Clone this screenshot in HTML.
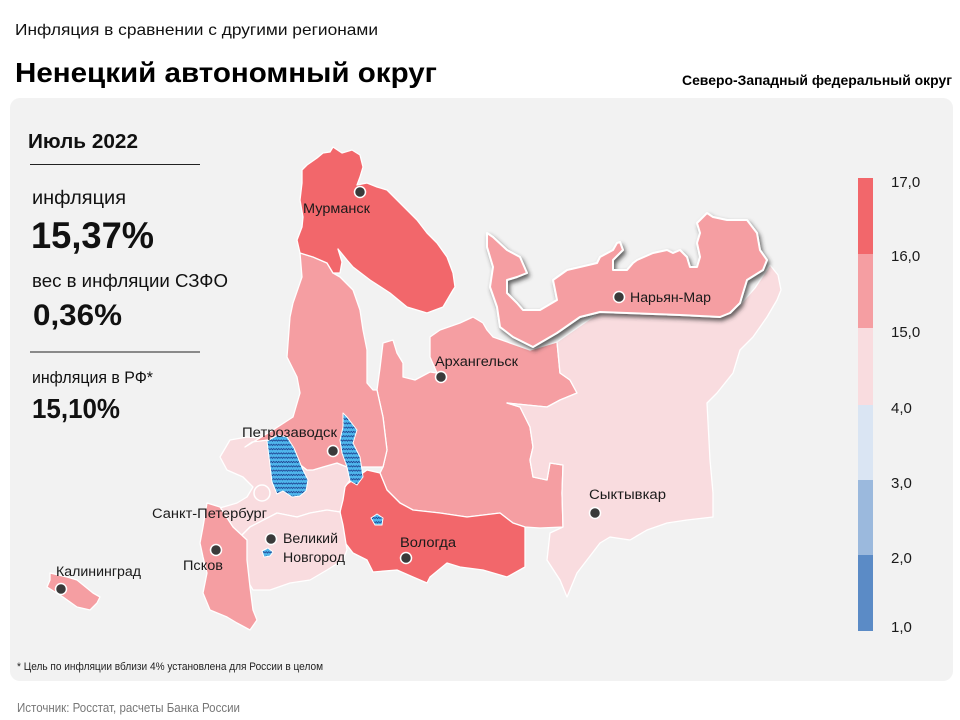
<!DOCTYPE html>
<html>
<head>
<meta charset="utf-8">
<style>
html,body{margin:0;padding:0;background:#fff;}
svg{display:block;}
text{font-family:"Liberation Sans",Arial,sans-serif;}
</style>
</head>
<body>
<svg width="960" height="720" viewBox="0 0 960 720" xmlns="http://www.w3.org/2000/svg">
<defs>
  <pattern id="wave" width="5" height="4.3" patternUnits="userSpaceOnUse">
    <rect width="5" height="4.3" fill="#4fb6ec"/>
    <path d="M0,2.6 L1.25,1.3 L2.5,2.6 L3.75,1.3 L5,2.6" stroke="#1c3d8c" stroke-width="0.8" fill="none"/>
  </pattern>
  <filter id="sh" x="-10%" y="-10%" width="130%" height="140%">
    <feDropShadow dx="2" dy="3" stdDeviation="2" flood-color="#333" flood-opacity="0.75"/>
  </filter>
</defs>

<rect x="0" y="0" width="960" height="720" fill="#ffffff"/>

<!-- Header -->
<text x="15" y="35" font-size="16" fill="#111" textLength="363" lengthAdjust="spacingAndGlyphs">Инфляция в сравнении с другими регионами</text>
<text x="15" y="82" font-size="28" font-weight="bold" fill="#000" textLength="422" lengthAdjust="spacingAndGlyphs">Ненецкий автономный округ</text>
<text x="682" y="85" font-size="14" font-weight="bold" fill="#000" textLength="270" lengthAdjust="spacingAndGlyphs">Северо-Западный федеральный округ</text>

<!-- Panel -->
<rect x="10" y="98" width="943" height="583" rx="10" ry="10" fill="#f2f2f2"/>

<!-- Left info -->
<text x="28" y="148" font-size="20" font-weight="bold" fill="#111" textLength="110" lengthAdjust="spacingAndGlyphs">Июль 2022</text>
<line x1="30" y1="164.5" x2="200" y2="164.5" stroke="#222" stroke-width="1"/>
<text x="32" y="204" font-size="19" fill="#111" textLength="94" lengthAdjust="spacingAndGlyphs">инфляция</text>
<text x="31" y="248" font-size="37" font-weight="bold" fill="#111" textLength="123" lengthAdjust="spacingAndGlyphs">15,37%</text>
<text x="32" y="287" font-size="18" fill="#111" textLength="196" lengthAdjust="spacingAndGlyphs">вес в инфляции  СЗФО</text>
<text x="33" y="325" font-size="30" font-weight="bold" fill="#111" textLength="89" lengthAdjust="spacingAndGlyphs">0,36%</text>
<line x1="30" y1="352" x2="200" y2="352" stroke="#222" stroke-width="1"/>
<text x="32" y="383" font-size="16.5" fill="#111" textLength="121" lengthAdjust="spacingAndGlyphs">инфляция  в РФ*</text>
<text x="32" y="418" font-size="28" font-weight="bold" fill="#111" textLength="88" lengthAdjust="spacingAndGlyphs">15,10%</text>

<!-- Map regions -->
<g stroke="#ffffff" stroke-width="1.3" stroke-linejoin="round">
  <!-- Arkhangelsk -->
  <path fill="#f59ea2" d="M377,390 L380,368 L383,343 L393,340 L397,353 L403,363 L403,377 L415,380 L430,372 L437,373 L430,357 L430,337 L440,330 L460,323 L473,317 L483,323 L487,330 L493,337 L530,350 L557,342 L560,373 L570,380 L577,393 L560,400 L547,407 L507,403 L520,407 L530,427 L533,447 L530,460 L533,477 L547,480 L550,463 L563,465 L562,493 L563,527 L540,528 L525,527 L513,523 L500,513 L467,517 L440,513 L413,510 L400,503 L387,490 L380,473 L383,467 L387,450 L383,417 Z"/>
  <!-- Komi -->
  <path fill="#f9dcdf" d="M557,342 L600,312 L680,315 L720,317 L740,305 L755,288 L770,265 L778,275 L781,290 L777,300 L767,317 L753,337 L740,350 L733,373 L717,393 L707,403 L710,460 L713,493 L713,517 L687,520 L667,523 L647,530 L630,540 L610,537 L600,543 L577,573 L567,597 L560,580 L547,560 L550,533 L563,527 L562,493 L563,465 L550,463 L547,480 L533,477 L530,460 L533,447 L530,427 L520,407 L507,403 L547,407 L560,400 L577,393 L570,380 L560,373 Z"/>
  <!-- Vologda -->
  <path fill="#f2676b" d="M343,487 L367,470 L380,473 L387,490 L400,503 L413,510 L440,513 L467,517 L500,513 L513,523 L525,527 L525,567 L507,577 L483,570 L460,567 L447,563 L430,577 L427,583 L413,577 L397,570 L373,572 L367,560 L353,553 L343,540 L340,513 Z"/>
  <!-- Leningrad -->
  <path fill="#f9dcdf" d="M230,440 L247,437 L262,438 L268,440 L307,470 L313,470 L323,467 L337,463 L347,467 L350,480 L345,487 L343,500 L340,512 L327,510 L310,513 L297,517 L277,513 L250,527 L240,537 L233,527 L220,510 L213,510 L237,503 L247,497 L253,487 L243,477 L227,470 L220,457 Z"/>
  <!-- Karelia -->
  <path fill="#f59ea2" d="M300,253 L313,257 L327,263 L333,273 L340,277 L353,290 L360,310 L363,330 L367,350 L367,383 L373,390 L377,390 L383,417 L387,450 L383,467 L347,467 L337,463 L323,467 L313,470 L307,470 L268,440 L252,442 L245,447 L273,430 L293,417 L300,393 L297,377 L287,357 L290,317 L293,303 L302,277 Z"/>
  <!-- Murmansk -->
  <path fill="#f2676b" d="M302,170 L307,165 L317,158 L323,153 L330,152 L333,147 L342,153 L352,150 L360,155 L363,167 L360,177 L357,185 L367,183 L377,187 L387,190 L397,200 L407,210 L417,220 L427,233 L437,243 L447,257 L453,273 L455,287 L453,290 L443,307 L427,313 L407,307 L390,293 L370,280 L353,267 L347,260 L338,249 L342,262 L340,273 L333,273 L327,263 L313,257 L300,253 L297,240 L302,227 L303,217 L300,200 L302,183 Z"/>
  <!-- Novgorod -->
  <path fill="#f9dcdf" d="M240,537 L250,527 L277,513 L297,517 L310,513 L327,510 L340,512 L343,525 L347,550 L343,560 L327,570 L310,580 L290,583 L270,590 L253,590 L247,580 L243,557 Z"/>
  <!-- Pskov -->
  <path fill="#f59ea2" d="M207,503 L220,507 L233,527 L247,540 L247,560 L250,587 L253,610 L257,620 L250,630 L237,623 L227,617 L210,610 L203,593 L207,573 L203,557 L200,543 L203,527 Z"/>
  <!-- Kaliningrad -->
  <path fill="#f59ea2" d="M50,573 L67,577 L77,580 L93,593 L100,597 L97,603 L90,610 L77,607 L63,597 L47,587 L50,580 Z"/>
</g>

<!-- Lakes -->
<g stroke="#ffffff" stroke-width="1" stroke-linejoin="round">
  <path fill="url(#wave)" d="M267,441 L278,435 L287,437 L294,448 L303,470 L308,480 L306,491 L300,496 L292,497 L283,491 L277,494 L272,482 L270,465 Z"/>
  <path fill="url(#wave)" d="M343,413 L347,417 L357,430 L353,443 L360,457 L363,477 L357,485 L350,481 L347,467 L342,453 L340,440 L343,427 Z"/>
  <path fill="url(#wave)" d="M371,518 L377,514 L383,518 L382,525 L375,525 Z"/>
  <path fill="url(#wave)" d="M262,551 L268,548 L273,552 L270,556 L264,557 Z"/>
</g>
<circle cx="262" cy="493" r="8" fill="#f9dcdf" stroke="#fff" stroke-width="1.5"/>

<!-- NAO with shadow -->
<path filter="url(#sh)" fill="#f59ea2" stroke="#ffffff" stroke-width="2" stroke-linejoin="round" d="M487,233 L493,237 L507,250 L520,257 L527,273 L517,277 L507,280 L507,293 L517,303 L523,310 L540,310 L557,300 L553,280 L567,270 L580,267 L597,263 L600,257 L613,250 L617,243 L620,242 L623,250 L613,260 L613,270 L627,270 L633,263 L637,260 L653,253 L667,250 L673,253 L680,250 L687,257 L690,267 L697,267 L700,257 L697,243 L700,233 L697,223 L707,213 L713,217 L727,220 L747,220 L757,233 L760,250 L767,260 L763,270 L747,280 L743,293 L740,303 L730,313 L720,317 L680,315 L600,312 L580,317 L557,333 L533,347 L513,337 L500,327 L497,307 L490,287 L493,267 L487,247 Z"/>

<!-- City dots -->
<g fill="#3a3a3a" stroke="#ffffff" stroke-width="1.5">
  <circle cx="360" cy="192" r="5.5"/>
  <circle cx="441" cy="377" r="5.5"/>
  <circle cx="619" cy="297" r="5.5"/>
  <circle cx="333" cy="451" r="5.5"/>
  <circle cx="271" cy="539" r="5.5"/>
  <circle cx="216" cy="550" r="5.5"/>
  <circle cx="61" cy="589" r="5.5"/>
  <circle cx="406" cy="558" r="5.5"/>
  <circle cx="595" cy="513" r="5.5"/>
</g>

<!-- City labels -->
<g font-size="13.5" fill="#1a1a1a">
  <text x="303" y="213" textLength="67" lengthAdjust="spacingAndGlyphs">Мурманск</text>
  <text x="435" y="366" textLength="83" lengthAdjust="spacingAndGlyphs">Архангельск</text>
  <text x="630" y="302" textLength="81" lengthAdjust="spacingAndGlyphs">Нарьян-Мар</text>
  <text x="242" y="437" textLength="95" lengthAdjust="spacingAndGlyphs">Петрозаводск</text>
  <text x="152" y="518" textLength="115" lengthAdjust="spacingAndGlyphs">Санкт-Петербург</text>
  <text x="283" y="543" textLength="55" lengthAdjust="spacingAndGlyphs">Великий</text>
  <text x="283" y="562" textLength="62" lengthAdjust="spacingAndGlyphs">Новгород</text>
  <text x="183" y="570" textLength="40" lengthAdjust="spacingAndGlyphs">Псков</text>
  <text x="56" y="576" textLength="85" lengthAdjust="spacingAndGlyphs">Калининград</text>
  <text x="400" y="547" textLength="56" lengthAdjust="spacingAndGlyphs">Вологда</text>
  <text x="589" y="499" textLength="77" lengthAdjust="spacingAndGlyphs">Сыктывкар</text>
</g>

<!-- Legend -->
<rect x="858" y="178" width="15" height="76" fill="#f2676b"/>
<rect x="858" y="254" width="15" height="74" fill="#f59ea2"/>
<rect x="858" y="328" width="15" height="77" fill="#f9dcdf"/>
<rect x="858" y="405" width="15" height="75" fill="#dae5f3"/>
<rect x="858" y="480" width="15" height="75" fill="#9bb9dd"/>
<rect x="858" y="555" width="15" height="76" fill="#5b8bc6"/>
<g font-size="15" fill="#1a1a1a">
  <text x="891" y="187">17,0</text>
  <text x="891" y="261">16,0</text>
  <text x="891" y="337">15,0</text>
  <text x="891" y="413">4,0</text>
  <text x="891" y="488">3,0</text>
  <text x="891" y="563">2,0</text>
  <text x="891" y="632">1,0</text>
</g>

<!-- Footnotes -->
<text x="17" y="670" font-size="11" fill="#222" textLength="306" lengthAdjust="spacingAndGlyphs">* Цель по инфляции вблизи 4% установлена для России в целом</text>
<text x="17" y="712" font-size="13" fill="#777" textLength="223" lengthAdjust="spacingAndGlyphs">Источник: Росстат, расчеты Банка России</text>
</svg>
</body>
</html>
